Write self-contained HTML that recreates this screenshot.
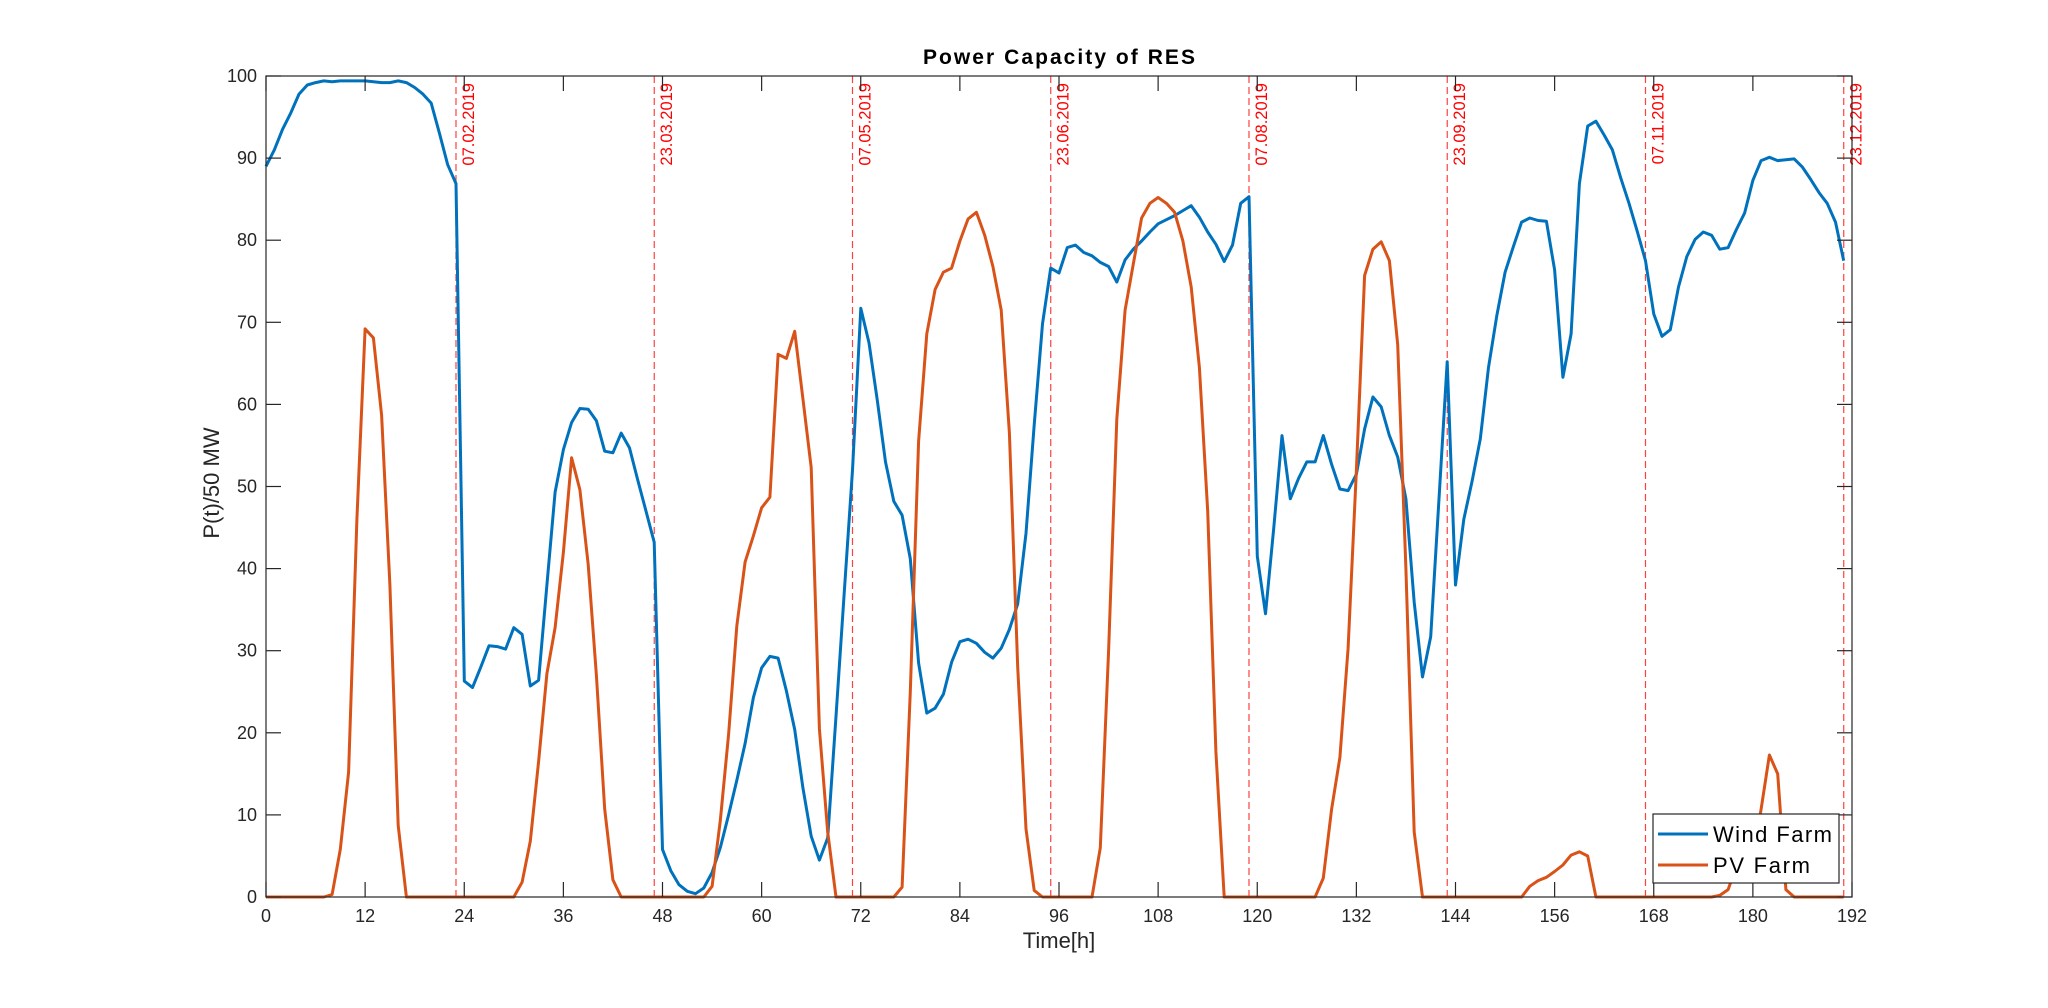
<!DOCTYPE html>
<html><head><meta charset="utf-8"><style>
html,body{margin:0;padding:0;background:#fff;}
svg{display:block;font-family:"Liberation Sans",Arial,sans-serif;}
</style></head><body>
<svg id="chart" width="2048" height="1008" viewBox="0 0 2048 1008"></svg>
<script>
const hours = Array.from({length:192},(_,i)=>i);
const windValues = [89,91,93.5,95.5,97.8,98.9,99.2,99.4,99.3,99.4,99.4,99.4,99.4,99.3,99.2,99.2,99.4,99.2,98.6,97.8,96.7,93,89.2,86.9,
26.3,25.5,28,30.6,30.5,30.2,32.8,32,25.7,26.4,38,49.3,54.5,57.8,59.5,59.4,58,54.3,54.1,56.5,54.7,50.8,47,43.2,
5.8,3.2,1.5,0.7,0.4,1.1,3,6,10,14.2,18.7,24.3,27.9,29.3,29.1,25.1,20.4,13.3,7.4,4.5,7.2,22,37,52,
71.7,67.5,60.5,53,48.2,46.5,41.2,28.5,22.4,23,24.7,28.6,31.1,31.4,30.9,29.8,29.1,30.3,32.6,35.7,44.3,57.5,69.8,76.6,
76,79.1,79.4,78.5,78.1,77.3,76.8,74.9,77.6,78.9,79.9,81,82,82.5,83,83.6,84.2,82.8,81,79.5,77.4,79.4,84.5,85.3,
41.5,34.5,45,56.2,48.5,51,53,53,56.2,52.7,49.7,49.5,51.5,57,60.9,59.7,56.2,53.6,48.5,35.9,26.8,31.7,48.5,65.2,
38,46,50.6,55.8,64.5,70.8,76.1,79.2,82.2,82.7,82.4,82.3,76.4,63.3,68.6,86.9,93.9,94.5,92.8,91,87.6,84.5,81.1,77.5,
71,68.3,69.1,74.3,78,80.1,81,80.6,78.9,79.1,81.3,83.3,87.3,89.7,90.1,89.7,89.8,89.9,88.9,87.4,85.8,84.5,82.2,77.5];
const pvValues = [0,0,0,0,0,0,0,0,0.3,5.8,15.2,46,69.2,68.1,58.7,38,8.7,0,0,0,0,0,0,0,
0,0,0,0,0,0,0,1.8,6.8,16.5,27.2,32.8,42,53.5,49.6,40.5,27,10.7,2.1,0,0,0,0,0,
0,0,0,0,0,0,1.3,9.3,19.8,33,40.8,44,47.4,48.7,66.1,65.6,68.9,60.7,52.3,20.5,7.9,0,0,0,
0,0,0,0,0,1.2,25,55.5,68.6,74,76.1,76.6,79.9,82.6,83.4,80.6,76.8,71.5,56.5,28,8.3,0.8,0,0,
0,0,0,0,0,6,30,58.2,71.5,77.1,82.7,84.5,85.2,84.5,83.4,79.9,74.3,64.5,47,17.7,0,0,0,0,
0,0,0,0,0,0,0,0,2.3,10.7,17,30.3,52,75.7,78.9,79.8,77.5,67.3,40,7.9,0,0,0,0,
0,0,0,0,0,0,0,0,0,1.3,2,2.4,3.1,3.9,5.1,5.5,5,0,0,0,0,0,0,0,
0,0,0,0,0,0,0,0,0.2,0.9,3.7,7.9,5,10.7,17.3,15,0.9,0,0,0,0,0,0,0];
const xTicks = [0,12,24,36,48,60,72,84,96,108,120,132,144,156,168,180,192];
const yTicks = [0,10,20,30,40,50,60,70,80,90,100];
const dateHours = [23,47,71,95,119,143,167,191];
const dateLabels = ["07.02.2019","23.03.2019","07.05.2019","23.06.2019","07.08.2019","23.09.2019","07.11.2019","23.12.2019"];

const L=266,R=1852,T=76,B=897;
const xs = h => L + (h/192)*(R-L);
const ys = v => B - (v/100)*(B-T);
const NS="http://www.w3.org/2000/svg";
const svg=document.getElementById('chart');
function mk(tag,attrs,parent){const e=document.createElementNS(NS,tag);for(const k in attrs)e.setAttribute(k,attrs[k]);(parent||svg).appendChild(e);return e;}

dateHours.forEach((h,i)=>{
  const l=mk('line',{x1:xs(h),x2:xs(h),y1:T,y2:B,stroke:'#ff0000','stroke-opacity':0.75,'stroke-width':1.2,'stroke-dasharray':'7,4'});
  
  
  const tx=xs(h)+18, ty=83;
  const t=mk('text',{x:tx,y:ty,transform:`rotate(-90 ${tx} ${ty})`,'text-anchor':'end','font-size':16.5,fill:'#ff0000'});
  t.textContent=dateLabels[i];
  
  
});

function series(vals,color,name){
  const d=vals.map((v,i)=>(i?'L':'M')+xs(hours[i]).toFixed(1)+' '+ys(v).toFixed(1)).join(' ');
  const p=mk('path',{d:d,fill:'none',stroke:color,'stroke-width':3,'stroke-linejoin':'round'});
  
  
}
series(windValues,'#0072BD','wind-farm-line');
series(pvValues,'#D95319','pv-farm-line');

const box=mk('rect',{x:L,y:T,width:R-L,height:B-T,fill:'none',stroke:'#262626','stroke-width':1.2});



xTicks.forEach(h=>{
  const x=xs(h);
  mk('line',{x1:x,x2:x,y1:B,y2:B-15,stroke:'#262626','stroke-width':1.2});
  mk('line',{x1:x,x2:x,y1:T,y2:T+15,stroke:'#262626','stroke-width':1.2});
  const t=mk('text',{x:x,y:922,'text-anchor':'middle','font-size':18,fill:'#262626'});
  t.textContent=h;
  
  
});
yTicks.forEach(v=>{
  const y=ys(v);
  mk('line',{x1:L,x2:L+15,y1:y,y2:y,stroke:'#262626','stroke-width':1.2});
  mk('line',{x1:R,x2:R-15,y1:y,y2:y,stroke:'#262626','stroke-width':1.2});
  const t=mk('text',{x:257,y:y+6,'text-anchor':'end','font-size':18,fill:'#262626'});
  t.textContent=v;
  
  
});
</script>
<svg style="position:absolute;left:0;top:0" width="2048" height="1008">
  <text x="1059" y="64" text-anchor="middle" font-size="21" font-weight="bold" fill="#000" textLength="272" font-family="Liberation Sans, sans-serif">Power Capacity of RES</text>
  <text x="1059" y="948" text-anchor="middle" font-size="22" fill="#262626" font-family="Liberation Sans, sans-serif">Time[h]</text>
  <text x="219" y="483" text-anchor="middle" font-size="22" fill="#262626" transform="rotate(-90 219 483)" font-family="Liberation Sans, sans-serif">P(t)/50 MW</text>
  <g>
    <rect x="1653" y="814" width="186" height="69" fill="#fff" stroke="#262626" stroke-width="1.2"/>
    <g>
      <line x1="1658" y1="834" x2="1708" y2="834" stroke="#0072BD" stroke-width="3"/>
      <text x="1713" y="842" font-size="22" fill="#000" textLength="119" font-family="Liberation Sans, sans-serif">Wind Farm</text>
    </g>
    <g>
      <line x1="1658" y1="865" x2="1708" y2="865" stroke="#D95319" stroke-width="3"/>
      <text x="1713" y="873" font-size="22" fill="#000" textLength="97" font-family="Liberation Sans, sans-serif">PV Farm</text>
    </g>
  </g>
</svg>
</body></html>
